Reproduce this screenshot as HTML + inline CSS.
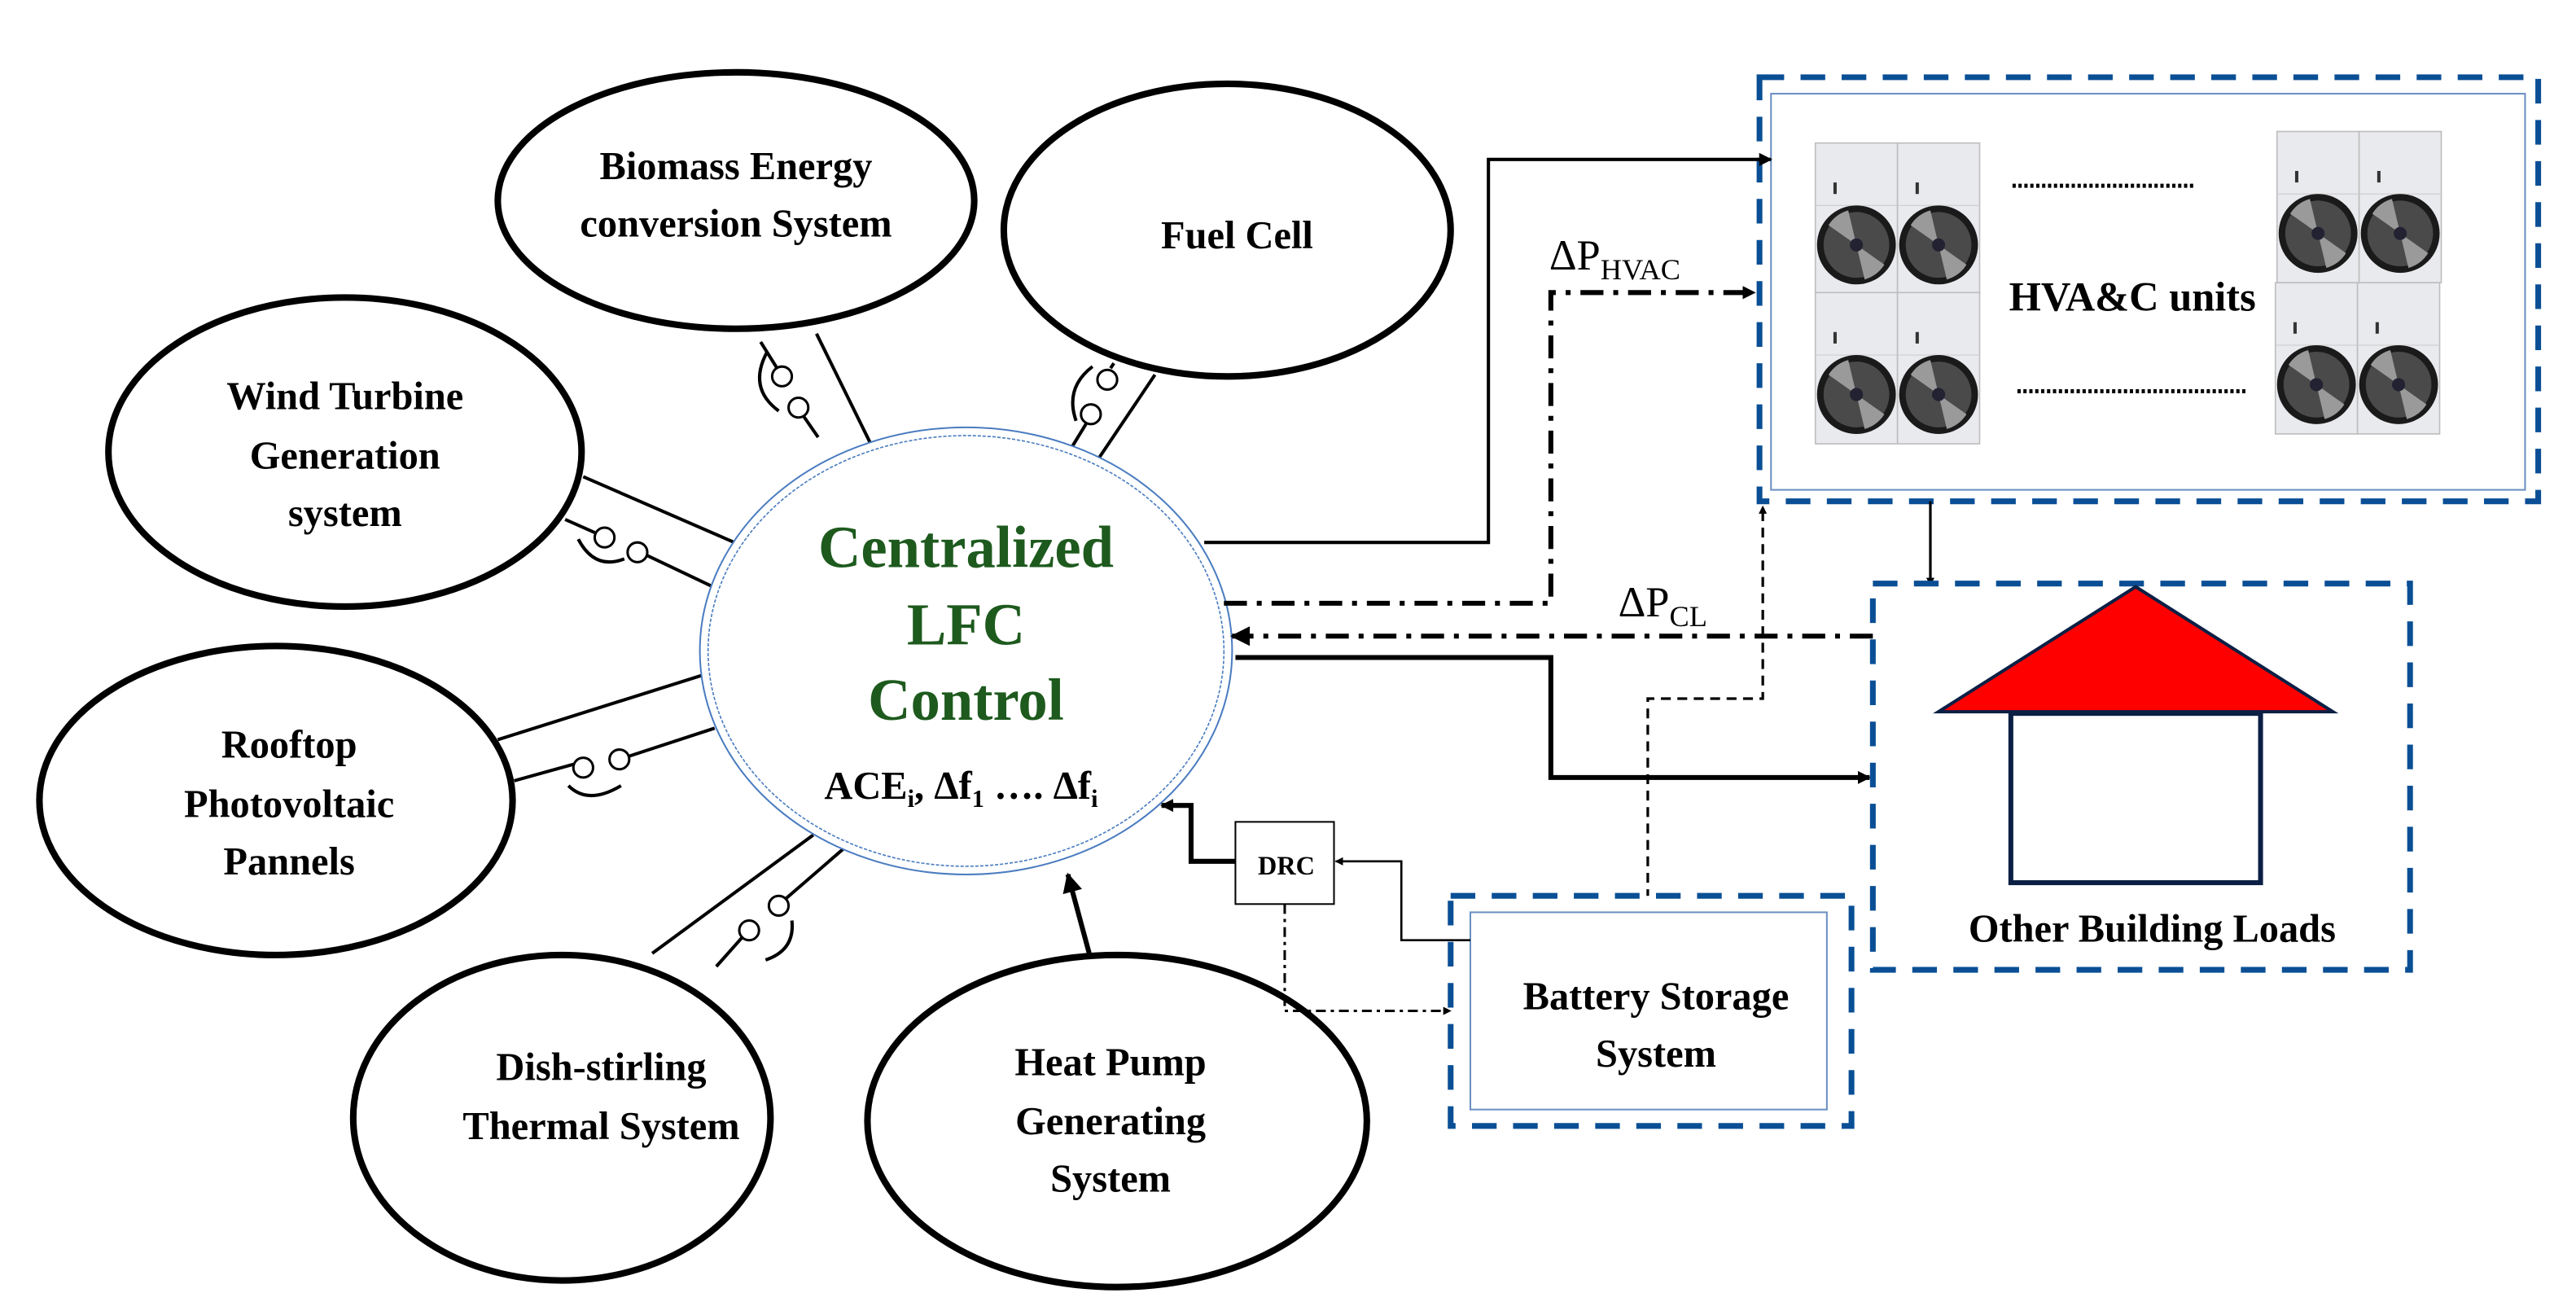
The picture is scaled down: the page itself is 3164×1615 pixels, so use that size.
<!DOCTYPE html>
<html><head><meta charset="utf-8"><style>
html,body{margin:0;padding:0;background:#fff;}
svg{display:block;}
text{font-family:"Liberation Serif",serif;font-weight:bold;}
</style></head><body>
<svg width="3164" height="1615" viewBox="0 0 1568 800" preserveAspectRatio="none" xmlns="http://www.w3.org/2000/svg">
<defs>
<marker id="ah" viewBox="0 0 10 10" refX="9" refY="5" markerWidth="5" markerHeight="5" orient="auto-start-reverse" markerUnits="userSpaceOnUse"><path d="M0,0 L10,5 L0,10 z" fill="#000"/></marker>
<marker id="ahL" viewBox="0 0 10 10" refX="9" refY="5" markerWidth="12" markerHeight="12" orient="auto" markerUnits="userSpaceOnUse"><path d="M0,0 L10,5 L0,10 z" fill="#000"/></marker>
<marker id="ahS" viewBox="0 0 10 10" refX="9" refY="5" markerWidth="8" markerHeight="8" orient="auto" markerUnits="userSpaceOnUse"><path d="M0,0 L10,5 L0,10 z" fill="#000"/></marker>
<g id="fan">
<rect x="0" y="0" width="50" height="92" fill="#e9eaee" stroke="#bdbdbd" stroke-width="0.8"/>
<rect x="11" y="24" width="2" height="7" fill="#333"/>
<line x1="0" y1="38" x2="50" y2="38" stroke="#cfcfcf" stroke-width="0.6"/>
<circle cx="25" cy="62" r="24" fill="#1a1a1a"/>
<circle cx="25" cy="62" r="20" fill="#4a4a4a"/>
<path d="M25,62 L8,50 A21,21 0 0 1 20,41 z M25,62 L42,74 A21,21 0 0 1 30,83 z" fill="#9a9a9a"/>
<circle cx="25" cy="62" r="4" fill="#223"/>
</g>
</defs>

<g stroke="#000" stroke-width="2" fill="none">
<line x1="497" y1="203" x2="530" y2="270"/>
<line x1="463" y1="208" x2="473" y2="224"/><line x1="489" y1="253" x2="498" y2="266"/>
<path d="M467,214 Q455,236 474,250"/>
<line x1="703" y1="228" x2="668" y2="280"/>
<line x1="678" y1="221" x2="676" y2="224"/><line x1="661" y1="258" x2="650" y2="276"/>
<path d="M665,223 Q648,236 655,256"/>
<line x1="355" y1="290" x2="447" y2="330"/>
<line x1="344" y1="316" x2="362" y2="324"/><line x1="394" y1="338" x2="434" y2="357"/>
<path d="M352,328 Q362,347 380,340"/>
<line x1="303" y1="450" x2="430" y2="410"/>
<line x1="313" y1="475" x2="349" y2="465"/><line x1="383" y1="460" x2="435" y2="443"/>
<path d="M346,478 Q358,490 378,478"/>
<line x1="397" y1="580" x2="495" y2="508"/>
<line x1="436" y1="588" x2="452" y2="570"/><line x1="478" y1="547" x2="515" y2="515"/>
<path d="M482,560 Q484,578 466,584"/>
</g>
<g stroke="#000" stroke-width="1.5" fill="#fff">
<circle cx="476" cy="229" r="6"/><circle cx="486" cy="248" r="6"/>
<circle cx="674" cy="231" r="6"/><circle cx="664" cy="252" r="6"/>
<circle cx="368" cy="327" r="6"/><circle cx="388" cy="336" r="6"/>
<circle cx="355" cy="467" r="6"/><circle cx="377" cy="462" r="6"/>
<circle cx="456" cy="566" r="6"/><circle cx="474" cy="551" r="6"/>
</g>

<g stroke="#000" stroke-width="4" fill="#fff">
<ellipse cx="448" cy="122" rx="145" ry="78"/>
<ellipse cx="747" cy="140" rx="136" ry="89"/>
<ellipse cx="210" cy="275" rx="144" ry="94"/>
<ellipse cx="168" cy="487" rx="144" ry="94"/>
<ellipse cx="342" cy="680" rx="127" ry="99"/>
<ellipse cx="680" cy="682" rx="152" ry="101"/>
</g>
<g font-size="24" text-anchor="middle" fill="#000">
<text x="448" y="109">Biomass Energy</text>
<text x="448" y="144">conversion  System</text>
<text x="753" y="151">Fuel Cell</text>
<text x="210" y="249">Wind Turbine</text>
<text x="210" y="285">Generation</text>
<text x="210" y="320">system</text>
<text x="176" y="461">Rooftop</text>
<text x="176" y="497">Photovoltaic</text>
<text x="176" y="532">Pannels</text>
<text x="366" y="657">Dish-stirling</text>
<text x="366" y="693">Thermal System</text>
<text x="676" y="654">Heat Pump</text>
<text x="676" y="690">Generating</text>
<text x="676" y="725">System</text>
</g>

<ellipse cx="588" cy="396" rx="162" ry="136" fill="#fff" stroke="#4a7cc0" stroke-width="1"/>
<ellipse cx="588" cy="396" rx="157" ry="131" fill="none" stroke="#4a7cc0" stroke-width="0.8" stroke-dasharray="2 1"/>
<g text-anchor="middle" fill="#1e5a1e" font-size="36">
<text x="588" y="345">Centralized</text>
<text x="588" y="392">LFC</text>
<text x="588" y="438">Control</text>
</g>
<text x="585" y="486" text-anchor="middle" font-size="24" fill="#000">ACE<tspan font-size="15" dy="5">i</tspan><tspan dy="-5">, Δf</tspan><tspan font-size="15" dy="5">1</tspan><tspan dy="-5"> …. Δf</tspan><tspan font-size="15" dy="5">i</tspan></text>

<line x1="663" y1="580" x2="650" y2="532" stroke="#000" stroke-width="3" marker-end="url(#ahL)"/>

<rect x="1071" y="47" width="474" height="258" fill="#fff" stroke="#0a4f95" stroke-width="3.5" stroke-dasharray="15 10"/>
<rect x="1078" y="57" width="459" height="241" fill="none" stroke="#6a8fc0" stroke-width="1"/>
<use href="#fan" x="1105" y="87"/><use href="#fan" x="1155" y="87"/>
<use href="#fan" x="1105" y="178"/><use href="#fan" x="1155" y="178"/>
<use href="#fan" x="1386" y="80"/><use href="#fan" x="1436" y="80"/>
<use href="#fan" x="1385" y="172"/><use href="#fan" x="1435" y="172"/>
<line x1="1225" y1="113" x2="1336" y2="113" stroke="#000" stroke-width="2.5" stroke-dasharray="2 1.6"/>
<line x1="1228" y1="238" x2="1368" y2="238" stroke="#000" stroke-width="2.5" stroke-dasharray="2 1.6"/>
<text x="1298" y="189" text-anchor="middle" font-size="25" fill="#000">HVA&amp;C units</text>

<polyline points="733,330 906,330 906,97 1078,97" fill="none" stroke="#000" stroke-width="2" marker-end="url(#ahS)"/>

<text x="943" y="164" font-size="26" style="font-weight:normal" fill="#000">ΔP<tspan font-size="18" dy="6">HVAC</tspan></text>
<polyline points="745,367 944,367 944,178 1068,178" fill="none" stroke="#000" stroke-width="3" stroke-dasharray="14 6 3 6" marker-end="url(#ahS)"/>

<text x="985" y="375" font-size="26" style="font-weight:normal" fill="#000">ΔP<tspan font-size="18" dy="6">CL</tspan></text>
<line x1="1140" y1="387" x2="750" y2="387" stroke="#000" stroke-width="3" stroke-dasharray="14 6 3 6" marker-end="url(#ahL)"/>

<polyline points="752,400 944,400 944,473 1138,473" fill="none" stroke="#000" stroke-width="3" marker-end="url(#ahS)"/>

<polyline points="1003,547 1003,425 1073,425 1073,308" fill="none" stroke="#000" stroke-width="1.6" stroke-dasharray="6 4" marker-end="url(#ah)"/>

<line x1="1175" y1="305" x2="1175" y2="356" stroke="#000" stroke-width="1.6" marker-end="url(#ah)"/>

<rect x="1140" y="355" width="327" height="235" fill="none" stroke="#0a4f95" stroke-width="3.5" stroke-dasharray="15 10"/>
<polygon points="1180,433 1300,357 1420,433" fill="#ff0000" stroke="#0b1f45" stroke-width="2"/>
<rect x="1224" y="434" width="152" height="103" fill="#fff" stroke="#0b1f45" stroke-width="3"/>
<text x="1310" y="573" text-anchor="middle" font-size="24" fill="#000">Other Building Loads</text>

<rect x="883" y="545" width="244" height="140" fill="#fff" stroke="#0a4f95" stroke-width="3.5" stroke-dasharray="15 10"/>
<rect x="895" y="555" width="217" height="120" fill="none" stroke="#6a8fc0" stroke-width="1"/>
<text x="1008" y="614" text-anchor="middle" font-size="24" fill="#000">Battery Storage</text>
<text x="1008" y="649" text-anchor="middle" font-size="24" fill="#000">System</text>

<rect x="752" y="500" width="60" height="50" fill="#fff" stroke="#000" stroke-width="1"/>
<text x="783" y="532" text-anchor="middle" font-size="16" fill="#000">DRC</text>
<polyline points="895,572 853,572 853,524 813,524" fill="none" stroke="#000" stroke-width="1.3" marker-end="url(#ah)"/>
<polyline points="752,524 725,524 725,490 707,490" fill="none" stroke="#000" stroke-width="3" marker-end="url(#ahS)"/>
<polyline points="782,550 782,615 883,615" fill="none" stroke="#000" stroke-width="1.5" stroke-dasharray="6 3 2 3" marker-end="url(#ah)"/>
</svg>
</body></html>
